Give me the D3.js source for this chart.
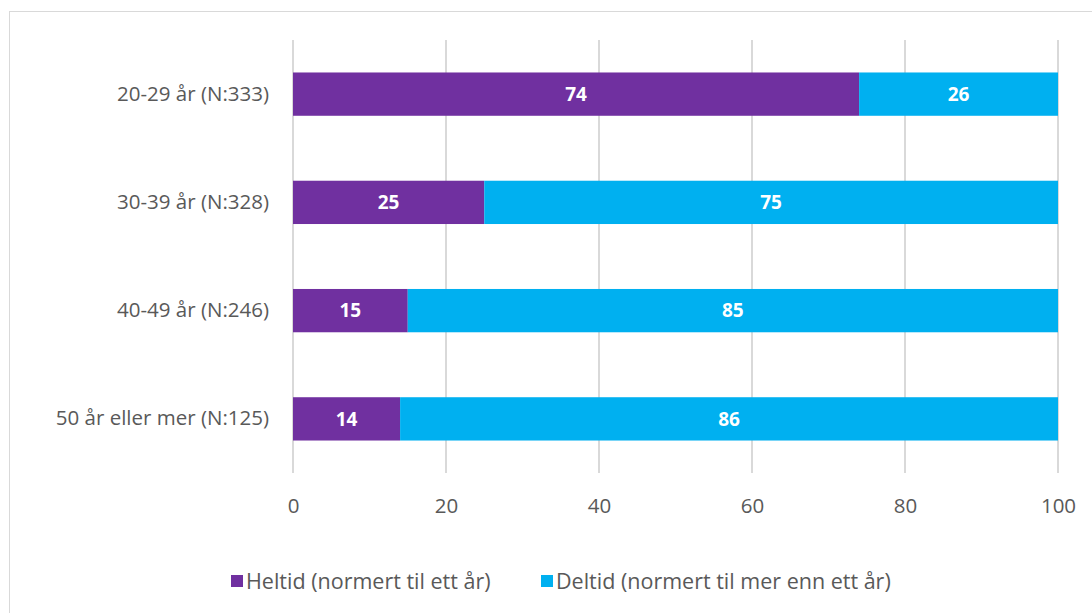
<!DOCTYPE html>
<html>
<head>
<meta charset="utf-8">
<script src="https://cdn.jsdelivr.net/npm/d3@7"></script>
<style>
  body { margin: 0; background: #fff; }
  text { font-family: "Open Sans", sans-serif; }
</style>
</head>
<body>
<div id="chart"></div>
<script>
var categories = ["20-29 år (N:333)", "30-39 år (N:328)", "40-49 år (N:246)", "50 år eller mer (N:125)"];
var heltid = [74, 25, 15, 14];
var deltid = [26, 75, 85, 86];
var seriesNames = ["Heltid (normert til ett år)", "Deltid (normert til mer enn ett år)"];
var xTicks = [0, 20, 40, 60, 80, 100];

var svgWidth = 1092, svgHeight = 613;
var margin = { top: 40, right: 34, bottom: 140, left: 293 };
var width = svgWidth - margin.left - margin.right;
var height = svgHeight - margin.top - margin.bottom;

var colors = ["#7030A0", "#00B0F0"];
var textColor = "#595959";

var svg = d3.select("#chart").append("svg")
  .attr("width", svgWidth)
  .attr("height", svgHeight);

// chart frame
svg.append("rect")
  .attr("x", 9.5).attr("y", 11.5)
  .attr("width", svgWidth).attr("height", svgHeight)
  .attr("fill", "none").attr("stroke", "#d9d9d9");

var chartGroup = svg.append("g")
  .attr("transform", `translate(${margin.left}, ${margin.top})`);

var x = d3.scaleLinear().domain([0, 100]).range([0, width]);
var y = d3.scaleBand().domain(categories).range([0, height]).paddingInner(0.6).paddingOuter(0.3);

// gridlines
chartGroup.append("g")
  .selectAll("line")
  .data(xTicks)
  .enter().append("line")
  .attr("x1", d => x(d)).attr("x2", d => x(d))
  .attr("y1", 0).attr("y2", height)
  .attr("stroke", "#d9d9d9").attr("stroke-width", 2);

// x axis labels
var xAxis = chartGroup.append("g")
  .attr("transform", `translate(0, ${height})`)
  .call(d3.axisBottom(x).tickValues(xTicks).tickSize(0).tickPadding(25));
xAxis.select(".domain").remove();
xAxis.selectAll("text").attr("font-size", 20.5).attr("fill", textColor)
  .style("font-family", "Open Sans");

// y axis labels
var yAxis = chartGroup.append("g")
  .call(d3.axisLeft(y).tickSize(0).tickPadding(24));
yAxis.select(".domain").remove();
yAxis.selectAll("text").attr("font-size", 20.5).attr("fill", textColor)
  .style("font-family", "Open Sans");

var stacked = categories.map((c, i) => ({ cat: c, vals: [heltid[i], deltid[i]] }));

stacked.forEach(function (d) {
  var start = 0;
  d.vals.forEach(function (v, j) {
    chartGroup.append("rect")
      .attr("x", x(start))
      .attr("y", y(d.cat))
      .attr("width", x(start + v) - x(start))
      .attr("height", y.bandwidth())
      .attr("fill", colors[j]);
    chartGroup.append("text")
      .attr("x", x(start + v / 2))
      .attr("y", y(d.cat) + y.bandwidth() / 2)
      .attr("dy", "0.35em")
      .attr("text-anchor", "middle")
      .attr("font-size", 19)
      .attr("font-weight", "bold")
      .attr("fill", "#fff")
      .text(v);
    start += v;
  });
});

// legend
var legend = svg.append("g").attr("transform", "translate(231, 581)");
var legendX = [0, 310];
seriesNames.forEach(function (name, i) {
  var g = legend.append("g").attr("transform", `translate(${legendX[i]}, 0)`);
  g.append("rect").attr("x", 0).attr("y", -6).attr("width", 12).attr("height", 12).attr("fill", colors[i]);
  g.append("text").attr("x", 15).attr("y", 0).attr("dy", "0.35em")
    .attr("font-size", 21.5).attr("fill", textColor).text(name);
});
</script>
</body>
</html>
